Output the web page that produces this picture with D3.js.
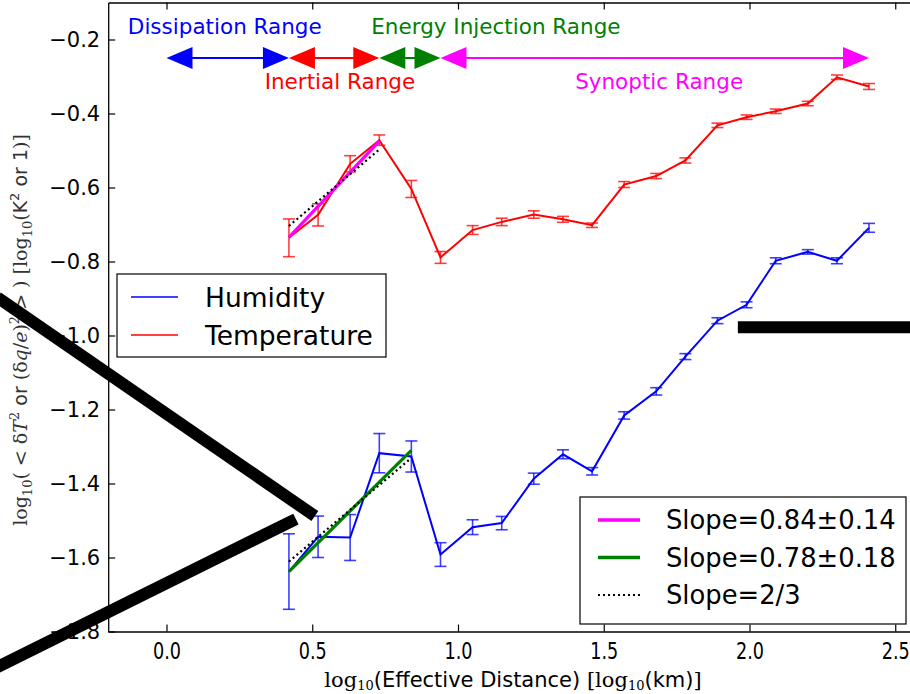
<!DOCTYPE html>
<html><head><meta charset="utf-8">
<script src="https://cdn.jsdelivr.net/npm/d3@7"></script>
<style>body{margin:0;background:#fff}svg{display:block}</style>
</head><body>
<script>
// ---- data ----
const xDist = [0.42,0.52,0.63,0.73,0.84,0.94,1.05,1.15,1.26,1.36,1.46,1.57,1.68,1.78,1.89,1.99,2.09,2.20,2.30,2.41];
const temperature = [-0.736,-0.674,-0.536,-0.472,-0.604,-0.789,-0.715,-0.693,-0.673,-0.686,-0.702,-0.592,-0.569,-0.527,-0.432,-0.410,-0.394,-0.373,-0.302,-0.327];
const temperatureErr = [0.051,0.030,0.022,0.014,0.023,0.016,0.012,0.010,0.010,0.008,0.006,0.008,0.007,0.007,0.006,0.006,0.006,0.006,0.006,0.008];
const humidity = [-1.638,-1.544,-1.546,-1.318,-1.327,-1.592,-1.518,-1.507,-1.387,-1.321,-1.367,-1.216,-1.151,-1.057,-0.960,-0.917,-0.798,-0.774,-0.798,-0.709];
const humidityErr = [0.102,0.056,0.062,0.053,0.042,0.032,0.020,0.018,0.015,0.012,0.010,0.010,0.010,0.008,0.008,0.008,0.008,0.006,0.008,0.012];
const fits = [ // slope, x start, x end, y at start
  {name:"tempFit", slope:0.84, x0:0.42, x1:0.73, y0:-0.735},
  {name:"humFit",  slope:0.78, x0:0.42, x1:0.84, y0:-1.638},
  {name:"tempRef", slope:2/3,  x0:0.42, x1:0.73, y0:-0.704},
  {name:"humRef",  slope:2/3,  x0:0.42, x1:0.84, y0:-1.611}
];
const ranges = [
  {label:"Dissipation Range", from:0.0, to:0.42},
  {label:"Inertial Range", from:0.42, to:0.73},
  {label:"Energy Injection Range", from:0.73, to:0.94},
  {label:"Synoptic Range", from:0.94, to:2.41}
];
const rangeY = -0.25;
const xTicks = [0.0,0.5,1.0,1.5,2.0,2.5];
const yTicks = [-1.8,-1.6,-1.4,-1.2,-1.0,-0.8,-0.6,-0.4,-0.2];
const seriesNames = ["Humidity","Temperature"];
const slopeLabels = ["Slope=0.84\u00b10.14","Slope=0.78\u00b10.18","Slope=2/3"];
// overlaid black annotation strokes (data coords)
const marks = [
  {x0:-0.58, y0:-0.897, x1:0.509, y1:-1.488},
  {x0:-0.58, y0:-1.896, x1:0.444, y1:-1.496},
  {x0:1.96, y0:-0.978, x1:2.7, y1:-0.978}
];

// ---- layout ----
const W=910,H=694;
const x = d3.scaleLinear().domain([-0.2,2.6]).range([108.2,924.4]);
const y = d3.scaleLinear().domain([-1.8,-0.1]).range([631.5,2.5]);
const C = {b:"#0000ff", r:"#ff0000", g:"#008000", m:"#ff00ff", k:"#000"};
const rangeColors=[C.b,C.r,C.g,C.m];
const SANS="'DejaVu Sans', sans-serif", SERIF="'DejaVu Serif','Liberation Serif', serif";

const svg=d3.select("body").append("svg").attr("width",W).attr("height",H).style("font-family",SANS);
svg.append("rect").attr("width",W).attr("height",H).attr("fill","#fff");

// axes
const gx=svg.append("g").attr("transform",`translate(0,${y(-1.8)})`)
  .call(d3.axisBottom(x).tickValues(xTicks).tickFormat(d3.format(".1f")).tickSizeInner(-7).tickSizeOuter(0).tickPadding(0));
gx.selectAll(".tick text").attr("y",null).attr("dy",null)
  .attr("transform","translate(0,27) scale(0.84,1.1)")
  .style("font-size","21px").style("font-family",SANS).attr("fill","#000");
const gt=svg.append("g").attr("transform",`translate(0,${y(-0.1)})`)
  .call(d3.axisTop(x).tickValues(xTicks).tickFormat("").tickSizeInner(-7).tickSizeOuter(0));
const gy=svg.append("g").attr("transform",`translate(${x(-0.2)},0)`)
  .call(d3.axisLeft(y).tickValues(yTicks).tickFormat(d3.format(".1f")).tickSizeInner(-7).tickSizeOuter(0).tickPadding(8));
gy.selectAll("text").style("font-size","21px").style("font-family",SANS).attr("fill","#000");
svg.selectAll(".domain").attr("stroke","#000").attr("stroke-width",1.3);
svg.selectAll(".tick line").attr("stroke","#000").attr("stroke-width",1.2);

// series
function drawSeries(vals,errs,color){
  const g=svg.append("g");
  xDist.forEach((xv,i)=>{
    const px=x(xv);
    g.append("line").attr("x1",px).attr("x2",px).attr("y1",y(vals[i]-errs[i])).attr("y2",y(vals[i]+errs[i])).attr("stroke",color).attr("stroke-width",1.6).attr("opacity",0.75);
    [vals[i]-errs[i],vals[i]+errs[i]].forEach(v=>g.append("line").attr("x1",px-6).attr("x2",px+6).attr("y1",y(v)).attr("y2",y(v)).attr("stroke",color).attr("stroke-width",1.6).attr("opacity",0.75));
  });
  g.append("path").datum(xDist.map((xv,i)=>[xv,vals[i]]))
    .attr("d",d3.line().x(d=>x(d[0])).y(d=>y(d[1]))).attr("fill","none").attr("stroke",color).attr("stroke-width",2);
}
drawSeries(humidity,humidityErr,C.b);
drawSeries(temperature,temperatureErr,C.r);

// fits
const fitStyle={tempFit:{c:C.m,w:3.2},humFit:{c:C.g,w:3.2}};
["tempFit","humFit"].forEach(n=>{
  const f=fits.find(q=>q.name===n), s=fitStyle[n];
  svg.append("line").attr("x1",x(f.x0)).attr("y1",y(f.y0)).attr("x2",x(f.x1)).attr("y2",y(f.y0+f.slope*(f.x1-f.x0)))
    .attr("stroke",s.c).attr("stroke-width",s.w);
});
["tempRef","humRef"].forEach(n=>{
  const f=fits.find(q=>q.name===n);
  svg.append("line").attr("x1",x(f.x0)).attr("y1",y(f.y0)).attr("x2",x(f.x1)).attr("y2",y(f.y0+f.slope*(f.x1-f.x0)))
    .attr("stroke",C.k).attr("stroke-width",2.2).attr("stroke-dasharray","2,3");
});

// range arrows
const hl=26, hw=22, ay=y(rangeY);
ranges.forEach((r,i)=>{
  const a=x(r.from), b=x(r.to), c=rangeColors[i];
  svg.append("line").attr("x1",a+hl-2).attr("x2",b-hl+2).attr("y1",ay).attr("y2",ay).attr("stroke",c).attr("stroke-width",2);
  svg.append("path").attr("d",`M${a},${ay}L${a+hl},${ay-hw/2}L${a+hl},${ay+hw/2}Z`).attr("fill",c);
  svg.append("path").attr("d",`M${b},${ay}L${b-hl},${ay-hw/2}L${b-hl},${ay+hw/2}Z`).attr("fill",c);
});
const rangeText=[{cx:0.2,dy:-24},{cx:0.595,dy:31},{cx:1.13,dy:-24},{cx:1.69,dy:31}];
ranges.forEach((r,i)=>{
  svg.append("text").attr("x",x(rangeText[i].cx)).attr("y",ay+rangeText[i].dy).attr("text-anchor","middle")
    .attr("fill",rangeColors[i]).style("font-size","21.5px").text(r.label);
});

// legend 1
svg.append("rect").attr("x",117).attr("y",274).attr("width",269).attr("height",83).attr("fill","#fff").attr("stroke","#000").attr("stroke-width",1.2);
seriesNames.forEach((n,i)=>{
  const ly=297+i*38;
  svg.append("line").attr("x1",131).attr("x2",178).attr("y1",ly).attr("y2",ly).attr("stroke",[C.b,C.r][i]).attr("stroke-width",1.6);
  svg.append("text").attr("x",205).attr("y",ly).attr("dy","0.36em").style("font-size","26.5px").text(n);
});
// legend 2
svg.append("rect").attr("x",580).attr("y",497).attr("width",326).attr("height",127).attr("fill","#fff").attr("stroke","#000").attr("stroke-width",1.2);
const l2=[{c:C.m,w:3.5,d:null},{c:C.g,w:3.5,d:null},{c:C.k,w:2.2,d:"2,3"}];
slopeLabels.forEach((n,i)=>{
  const ly=520+i*37.5;
  svg.append("line").attr("x1",598).attr("x2",640).attr("y1",ly).attr("y2",ly).attr("stroke",l2[i].c).attr("stroke-width",l2[i].w).attr("stroke-dasharray",l2[i].d);
  svg.append("text").attr("x",666).attr("y",ly).attr("dy","0.36em").style("font-size","25.8px").text(n);
});

// x label
const xl=svg.append("text").attr("x",513).attr("y",687).attr("text-anchor","middle").style("font-size","21px");
xl.append("tspan").style("font-family",SERIF).text("log");
xl.append("tspan").style("font-family",SERIF).style("font-size","13px").attr("dy",3).text("10");
xl.append("tspan").attr("dy",-3).text("(Effective Distance) ");
xl.append("tspan").style("font-family",SERIF).text("[log");
xl.append("tspan").style("font-family",SERIF).style("font-size","13px").attr("dy",3).text("10");
xl.append("tspan").attr("dy",-3).text("(km)");
xl.append("tspan").style("font-family",SERIF).text("]");

// y label
const yl=svg.append("text").attr("transform","translate(27,330) rotate(-90)").attr("text-anchor","middle").style("font-size","19px").attr("fill","#333");
const sp=(t,o={})=>{const s=yl.append("tspan").text(t);s.style("font-family",o.sans?SANS:SERIF);if(o.it)s.style("font-style","italic");if(o.fs)s.style("font-size",o.fs);if(o.dy)s.attr("dy",o.dy);return s;};
sp("log"); sp("10",{fs:"13px",dy:5}); sp("( < \u03b4",{dy:-5}); sp("T",{it:1}); sp("2",{fs:"13px",dy:-8}); sp(" or ",{sans:1,dy:8});
sp("(\u03b4"); sp("q",{it:1}); sp("/"); sp("e",{it:1}); sp(")"); sp("2",{fs:"13px",dy:-8}); sp(" > ) [log",{dy:8}); sp("10",{fs:"13px",dy:5});
sp("(",{dy:-5}); sp("K",{sans:1}); sp("2",{fs:"13px",dy:-8,sans:1}); sp(" or 1",{sans:1,dy:8}); sp(")]");

// overlaid black strokes
marks.forEach(m=>svg.append("line").attr("x1",x(m.x0)).attr("y1",y(m.y0)).attr("x2",x(m.x1)).attr("y2",y(m.y1)).attr("stroke","#000").attr("stroke-width",12));
</script>
</body></html>
